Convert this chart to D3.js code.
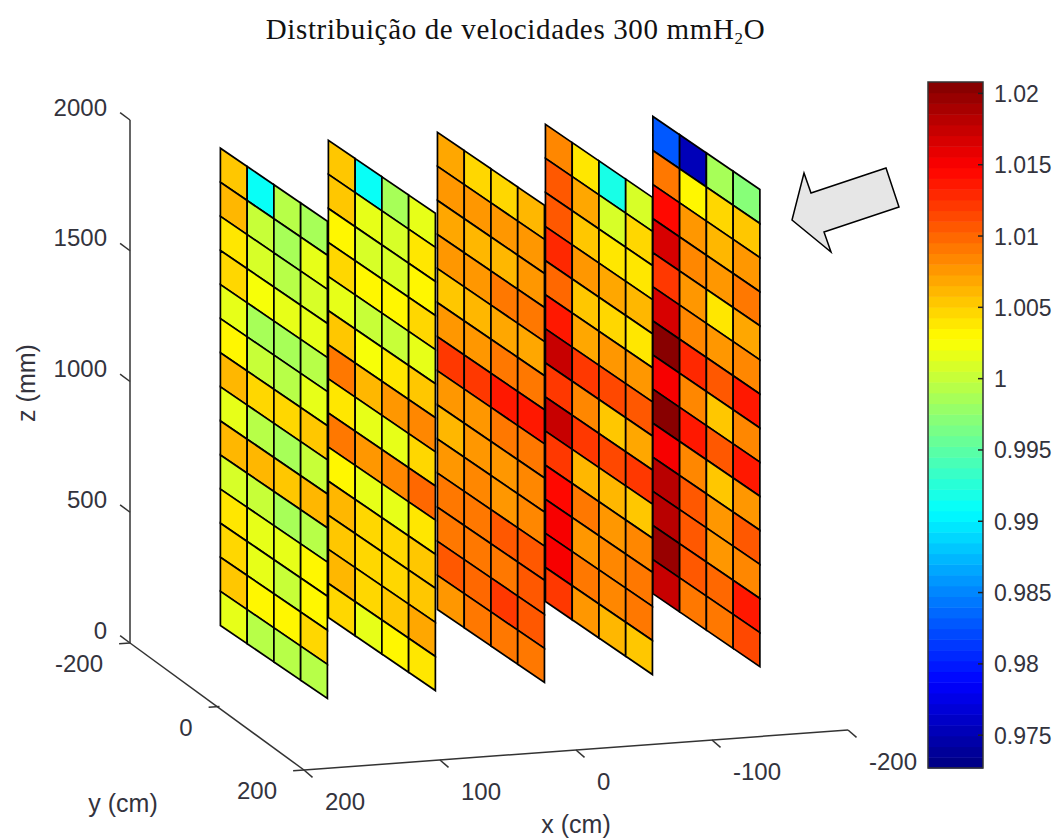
<!DOCTYPE html>
<html>
<head>
<meta charset="utf-8">
<title>Distribuição de velocidades</title>
<style>
  html, body { margin: 0; padding: 0; background: #fff; }
  svg { display: block; }
  text { font-family: "Liberation Sans", Arial, sans-serif; font-size: 24px; fill: #33333d; }
  .label { font-size: 25px; }
  .cbar-label { font-size: 23px; }
  .title { font-family: "Liberation Serif", "Times New Roman", serif; font-size: 29px; letter-spacing: 0.65px; fill: #111; }
</style>
<script src="https://cdn.jsdelivr.net/npm/d3@7"></script>
</head>
<body>
<div id="chart"></div>
<script>
(function() {
var WIDTH = 1056;
var HEIGHT = 838;

// slice positions along x (cm) and cell edges along y (cm)
var sliceX = [160, 80.6, 0.4, -79, -158];
var yEdges = [-120, -60, 0, 60, 120];
var zBottom = 155;
var zTop = 1980;
var ROWS = 14;

// each slice: one array per y column, rows run from top to bottom
var slice1 = [
  [1.0054,1.0065,1.0042,1.0045,1.0013,1.0028,1.0065,1.0017,1.0065,1.0009,1.0037,1.0050,1.0057,1.0017],
  [0.9913,1.0002,1.0009,1.0024,0.9983,1.0002,1.0050,0.9994,1.0065,1.0002,1.0013,1.0020,1.0028,0.9994],
  [0.9994,0.9988,0.9994,1.0020,0.9983,0.9994,1.0050,0.9988,1.0054,0.9988,1.0017,1.0002,1.0028,0.9994],
  [0.9988,1.0020,1.0009,1.0017,0.9994,1.0020,1.0054,1.0002,1.0065,0.9994,1.0028,1.0028,1.0050,0.9994]
];
var slice2 = [
  [1.0054,1.0054,1.0028,1.0047,1.0019,1.0057,1.0088,1.0042,1.0095,1.0028,1.0061,1.0057,1.0061,1.0047],
  [0.9913,1.0017,1.0006,1.0028,0.9998,1.0024,1.0065,1.0017,1.0080,1.0017,1.0050,1.0050,1.0050,1.0017],
  [0.9983,1.0006,1.0006,1.0028,1.0002,1.0042,1.0076,1.0020,1.0084,1.0017,1.0047,1.0047,1.0057,1.0028],
  [1.0017,1.0037,1.0028,1.0047,1.0017,1.0054,1.0084,1.0047,1.0099,1.0037,1.0054,1.0054,1.0069,1.0037]
];
var slice3 = [
  [1.0067,1.0078,1.0067,1.0078,1.0057,1.0080,1.0121,1.0080,1.0065,1.0073,1.0095,1.0088,1.0107,1.0080],
  [1.0047,1.0075,1.0061,1.0080,1.0061,1.0078,1.0121,1.0080,1.0080,1.0086,1.0095,1.0095,1.0099,1.0088],
  [1.0047,1.0073,1.0065,1.0088,1.0067,1.0090,1.0135,1.0092,1.0080,1.0078,1.0110,1.0095,1.0118,1.0088],
  [1.0061,1.0080,1.0073,1.0095,1.0067,1.0094,1.0133,1.0095,1.0082,1.0082,1.0103,1.0103,1.0110,1.0088]
];
var slice4 = [
  [1.0082,1.0110,1.0103,1.0128,1.0101,1.0140,1.0177,1.0125,1.0172,1.0121,1.0144,1.0148,1.0148,1.0125],
  [1.0042,1.0067,1.0054,1.0073,1.0054,1.0071,1.0121,1.0082,1.0118,1.0061,1.0088,1.0080,1.0095,1.0078],
  [0.9919,1.0006,1.0037,1.0067,1.0047,1.0080,1.0114,1.0057,1.0114,1.0065,1.0078,1.0084,1.0084,1.0065],
  [1.0009,1.0050,1.0042,1.0065,1.0042,1.0080,1.0110,1.0067,1.0120,1.0057,1.0084,1.0088,1.0088,1.0054]
];
var slice5 = [
  [0.9825,1.0090,1.0144,1.0166,1.0125,1.0170,1.0208,1.0148,1.0204,1.0148,1.0181,1.0181,1.0197,1.0177],
  [0.9750,1.0028,1.0075,1.0084,1.0073,1.0084,1.0128,1.0082,1.0133,1.0082,1.0103,1.0105,1.0110,1.0095],
  [0.9983,1.0047,1.0065,1.0073,1.0042,1.0076,1.0107,1.0057,1.0110,1.0057,1.0076,1.0073,1.0099,1.0095],
  [0.9973,1.0054,1.0080,1.0095,1.0067,1.0082,1.0138,1.0084,1.0140,1.0080,1.0103,1.0084,1.0133,1.0114]
];
var slices = [slice1, slice2, slice3, slice4, slice5];

var xTicks = [200, 100, 0, -100, -200];
var yTicks = [-200, 0, 200];
var zTicks = [0, 500, 1000, 1500, 2000];
var cbarTicks = [0.975, 0.98, 0.985, 0.99, 0.995, 1, 1.005, 1.01, 1.015, 1.02];
var cbarMin = 0.9727;
var cbarMax = 1.0208;
var arrowPoints = [[804,173],[811,193],[886,168],[899,207],[824,232],[831,252],[792,220]];

var svg = d3.select('#chart').append('svg')
  .attr('width', WIDTH)
  .attr('height', HEIGHT);

// jet colormap with 64 steps, as in the colorbar
var jetStops = d3.scaleLinear()
  .domain([0, 0.125, 0.375, 0.625, 0.875, 1])
  .range(['#000080', '#0000ff', '#00ffff', '#ffff00', '#ff0000', '#800000'])
  .interpolate(d3.interpolateRgb);
var jetColors = d3.range(64).map(function(i) { return jetStops((i + 0.5) / 64); });
var color = d3.scaleQuantize().domain([cbarMin, cbarMax]).range(jetColors);

// oblique 3d view: each data axis adds its own screen offset
var ORIGIN = [130, 643];
var xToPx = d3.scaleLinear().domain([200, -200]).range([0, 544]);
var xToPy = d3.scaleLinear().domain([200, -200]).range([0, -40]);
var yToPx = d3.scaleLinear().domain([-200, -120, 120, 200]).range([0, 36, 143, 174]);
var yToPy = d3.scaleLinear().domain([-200, -120, 120, 200]).range([0, 27, 100, 127]);
var zToPy = d3.scaleLinear().domain([0, 2000]).range([0, -523]);

function project(x, y, z) {
  return [
    ORIGIN[0] + xToPx(x) + yToPx(y),
    ORIGIN[1] + xToPy(x) + yToPy(y) + zToPy(z)
  ];
}

var line = d3.line();

// slices
var rowHeight = (zTop - zBottom) / ROWS;
var cells = [];
slices.forEach(function(slice, s) {
  slice.forEach(function(column, c) {
    column.forEach(function(v, r) {
      var zHi = zTop - r * rowHeight;
      cells.push({ x: sliceX[s], y0: yEdges[c], y1: yEdges[c + 1], z1: zHi, z0: zHi - rowHeight, v: v });
    });
  });
});

svg.append('g').selectAll('path')
  .data(cells)
  .enter().append('path')
  .attr('d', function(d) {
    return line([
      project(d.x, d.y0, d.z0),
      project(d.x, d.y1, d.z0),
      project(d.x, d.y1, d.z1),
      project(d.x, d.y0, d.z1)
    ]) + 'Z';
  })
  .attr('fill', function(d) { return color(d.v); })
  .attr('stroke', '#000')
  .attr('stroke-width', 1.7)
  .attr('stroke-linejoin', 'miter');

// axes
var axes = svg.append('g')
  .attr('fill', 'none')
  .attr('stroke', '#333')
  .attr('stroke-width', 1.5);

axes.append('path').attr('d', line([project(200, -200, 0), project(200, -200, 2000)]));
axes.append('path').attr('d', line([project(200, -200, 0), project(200, 200, 0)]));
axes.append('path').attr('d', line([project(200, 200, 0), project(-200, 200, 0)]));

zTicks.forEach(function(t) {
  axes.append('path').attr('d', line([project(200, -200, t), project(200, -222, t)]));
  var p = project(200, -200, t);
  svg.append('text')
    .attr('x', p[0] - 23)
    .attr('y', p[1] - 4.5)
    .attr('text-anchor', 'end')
    .text(t);
});

yTicks.forEach(function(t) {
  axes.append('path').attr('d', line([project(200, t, 0), project(208, t, 0)]));
  var p = project(200, t, 0);
  svg.append('text')
    .attr('x', p[0] - 27)
    .attr('y', p[1] + 29)
    .attr('text-anchor', 'end')
    .text(t);
});

xTicks.forEach(function(t) {
  axes.append('path').attr('d', line([project(t, 200, 0), project(t, 222, 0)]));
  var p = project(t, 200, 0);
  svg.append('text')
    .attr('x', p[0] + 21)
    .attr('y', p[1] + 40)
    .text(t);
});

svg.append('text').attr('class', 'label').attr('x', 123).attr('y', 812).attr('text-anchor', 'middle').text('y (cm)');
svg.append('text').attr('class', 'label').attr('x', 576).attr('y', 833).attr('text-anchor', 'middle').text('x (cm)');
svg.append('text')
  .attr('class', 'label')
  .attr('transform', 'translate(35,383) rotate(-90)')
  .attr('text-anchor', 'middle')
  .text('z (mm)');

// colorbar
var cbarX = 928;
var cbarW = 55;
var cbarScale = d3.scaleLinear().domain([cbarMin, cbarMax]).range([768, 82]);
var cbar = svg.append('g');
var step = (cbarMax - cbarMin) / 64;

cbar.selectAll('rect')
  .data(jetColors)
  .enter().append('rect')
  .attr('x', cbarX)
  .attr('width', cbarW)
  .attr('y', function(d, i) { return cbarScale(cbarMin + (i + 1) * step); })
  .attr('height', function(d, i) { return cbarScale(cbarMin + i * step) - cbarScale(cbarMin + (i + 1) * step) + 0.5; })
  .attr('fill', function(d) { return d; });

cbar.append('rect')
  .attr('x', cbarX)
  .attr('y', cbarScale(cbarMax))
  .attr('width', cbarW)
  .attr('height', cbarScale(cbarMin) - cbarScale(cbarMax))
  .attr('fill', 'none')
  .attr('stroke', '#333')
  .attr('stroke-width', 1.5);

cbarTicks.forEach(function(t) {
  var y = cbarScale(t);
  cbar.append('line')
    .attr('x1', cbarX + cbarW - 5)
    .attr('x2', cbarX + cbarW)
    .attr('y1', y)
    .attr('y2', y)
    .attr('stroke', '#222')
    .attr('stroke-width', 1.5);
  cbar.append('text')
    .attr('class', 'cbar-label')
    .attr('x', 994)
    .attr('y', y + 8.5)
    .text(t);
});

// arrow pointing at the last slice
svg.append('path')
  .attr('d', line(arrowPoints) + 'Z')
  .attr('fill', '#e6e6e6')
  .attr('stroke', '#000')
  .attr('stroke-width', 1.5);

// title
var title = svg.append('text')
  .attr('class', 'title')
  .attr('x', 515.5)
  .attr('y', 38.5)
  .attr('text-anchor', 'middle');
title.append('tspan').text('Distribuição de velocidades 300 mmH');
title.append('tspan').attr('dy', 5).style('font-size', '17px').text('2');
title.append('tspan').attr('dy', -5).text('O');
})();
</script>
</body>
</html>
